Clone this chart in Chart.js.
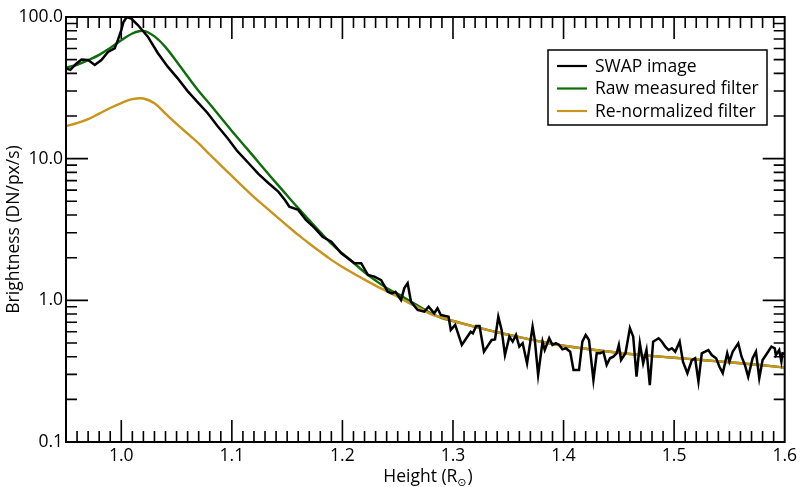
<!DOCTYPE html>
<html><head><meta charset="utf-8">
<script src="https://cdn.jsdelivr.net/npm/chart.js@4/dist/chart.umd.min.js"></script>
<style>html,body{margin:0;padding:0;background:#fff}#wrap{width:801px;height:487px;position:relative}</style>
</head><body><div id="wrap"><canvas id="c" width="801" height="487"></canvas></div>
<script>
// ---- data ----
const swapHeights = [0.950,0.954,0.959,0.964,0.970,0.976,0.982,0.988,0.994,0.997,1.000,1.002,1.005,1.009,1.015,1.024,1.033,1.042,1.051,1.060,1.069,1.078,1.087,1.096,1.105,1.115,1.124,1.133,1.142,1.148,1.152,1.160,1.167,1.175,1.182,1.190,1.199,1.205,1.211,1.217,1.223,1.229,1.235,1.241,1.245,1.248,1.253,1.256,1.259,1.262,1.268,1.274,1.278,1.283,1.286,1.289,1.293,1.296,1.298,1.302,1.308,1.316,1.318,1.321,1.324,1.328,1.331,1.335,1.338,1.341,1.344,1.347,1.351,1.354,1.357,1.360,1.363,1.367,1.372,1.374,1.377,1.381,1.383,1.387,1.390,1.393,1.396,1.399,1.402,1.406,1.409,1.414,1.417,1.420,1.423,1.427,1.430,1.433,1.436,1.439,1.442,1.445,1.448,1.450,1.452,1.456,1.460,1.463,1.466,1.469,1.472,1.475,1.478,1.481,1.486,1.489,1.492,1.495,1.498,1.501,1.505,1.508,1.512,1.516,1.519,1.522,1.525,1.528,1.531,1.534,1.538,1.541,1.544,1.548,1.550,1.553,1.558,1.561,1.564,1.567,1.571,1.574,1.577,1.580,1.585,1.588,1.591,1.592,1.595,1.597,1.598,1.600];
const swapBrightness = [43.3,42.3,46.6,50.1,49.7,45.8,49.7,56.6,60.0,68.9,80.9,92.2,100,97.6,87.8,72.6,55.7,44.6,36.9,30.0,25.1,21.0,17.0,14.0,11.3,9.32,7.80,6.73,5.85,5.11,4.58,4.35,3.69,3.23,2.81,2.59,2.15,1.98,1.83,1.83,1.51,1.47,1.39,1.15,1.12,1.15,1.005,1.22,1.32,0.978,0.855,0.832,0.902,0.810,0.879,0.788,0.775,0.766,0.618,0.670,0.484,0.600,0.585,0.659,0.659,0.434,0.471,0.525,0.530,0.766,0.618,0.411,0.554,0.511,0.569,0.471,0.498,0.359,0.652,0.525,0.297,0.511,0.446,0.540,0.484,0.498,0.484,0.451,0.459,0.434,0.322,0.322,0.511,0.569,0.525,0.274,0.423,0.423,0.434,0.350,0.390,0.400,0.423,0.484,0.379,0.423,0.636,0.554,0.289,0.498,0.359,0.446,0.252,0.511,0.540,0.510,0.471,0.446,0.459,0.434,0.511,0.369,0.306,0.379,0.390,0.267,0.423,0.434,0.446,0.411,0.390,0.340,0.306,0.423,0.369,0.434,0.498,0.400,0.350,0.289,0.390,0.434,0.282,0.379,0.434,0.471,0.459,0.411,0.446,0.369,0.423,0.420];

const filterHeights = [0.95,0.96,0.97,0.98,0.99,1.00,1.01,1.02,1.03,1.04,1.05,1.06,1.07,1.08,1.09,1.10,1.11,1.12,1.13,1.14,1.15,1.16,1.17,1.18,1.19,1.20,1.21,1.22,1.23,1.24,1.25,1.26,1.27,1.28,1.29,1.30,1.32,1.34,1.36,1.38,1.40,1.42,1.44,1.46,1.48,1.50,1.52,1.54,1.56,1.58,1.60];
const rawFilter = [44.0,46.0,49.5,54.0,60.5,68.5,76.5,79.8,73.0,61.3,48.5,38.0,30.0,24.3,19.5,15.7,12.7,10.3,8.32,6.75,5.50,4.48,3.68,3.03,2.51,2.14,1.84,1.58,1.38,1.22,1.11,1.00,0.90,0.81,0.75,0.715,0.65,0.595,0.55,0.51,0.478,0.455,0.435,0.418,0.405,0.393,0.382,0.371,0.36,0.348,0.335];
const renormFilter = [17.0,17.8,19.0,20.8,22.8,24.7,26.3,26.6,24.6,20.8,17.6,15.0,12.8,10.7,8.97,7.55,6.35,5.35,4.59,3.93,3.37,2.90,2.52,2.20,1.93,1.72,1.55,1.40,1.27,1.16,1.06,0.96,0.88,0.80,0.755,0.715,0.65,0.595,0.55,0.51,0.478,0.455,0.435,0.418,0.405,0.393,0.382,0.371,0.36,0.348,0.335];

const seriesNames = ['SWAP image','Raw measured filter','Re-normalized filter'];
const seriesColors = ['#000000','#0b6e0b','#c8941a'];
const xTickValues = [1.0,1.1,1.2,1.3,1.4,1.5,1.6];
const xTickLabels = ['1.0','1.1','1.2','1.3','1.4','1.5','1.6'];
const yTickValues = [0.1,1,10,100];
const yTickLabels = ['0.1','1.0','10.0','100.0'];
const xTitle = ['Height (R','\u2299',')'];
const yTitle = 'Brightness (DN/px/s)';

const FONT = "'Open Sans', 'DejaVu Sans', sans-serif";
const FS = 17.5;

const toPts = (xs, ys) => xs.map((h, i) => ({x: h, y: ys[i]}));

const framePlugin = {
  id: 'frameTicks',
  afterDraw(chart) {
    const {ctx, chartArea: a, scales: {x, y}} = chart;
    ctx.save();
    ctx.strokeStyle = '#000';
    ctx.lineWidth = 1.6;
    ctx.beginPath();
    for (let k = 96; k <= 159; k++) {
      const px = x.getPixelForValue(k / 100);
      const len = (k % 10 === 0) ? 22 : 11;
      ctx.moveTo(px, a.bottom); ctx.lineTo(px, a.bottom - len);
      ctx.moveTo(px, a.top); ctx.lineTo(px, a.top + len);
    }
    for (let d = -1; d <= 1; d++) {
      for (let m = 1; m <= 9; m++) {
        const v = m * Math.pow(10, d);
        const py = y.getPixelForValue(v);
        const len = (m === 1) ? 22 : 11;
        ctx.moveTo(a.left, py); ctx.lineTo(a.left + len, py);
        ctx.moveTo(a.right, py); ctx.lineTo(a.right - len, py);
      }
    }
    ctx.stroke();
    ctx.lineWidth = 2;
    ctx.strokeRect(a.left, a.top, a.right - a.left, a.bottom - a.top);

    // x title with subscript
    ctx.fillStyle = '#000';
    ctx.textBaseline = 'alphabetic';
    ctx.font = `${FS}px ${FONT}`;
    const w1 = ctx.measureText(xTitle[0]).width;
    const w3 = ctx.measureText(xTitle[2]).width;
    ctx.font = `11px ${FONT}`;
    const w2 = ctx.measureText(xTitle[1]).width;
    const total = w1 + w2 + w3 + 1;
    let sx = 428 - total / 2;
    const base = 482;
    ctx.font = `${FS}px ${FONT}`;
    ctx.fillText(xTitle[0], sx, base);
    ctx.font = `11px ${FONT}`;
    ctx.fillText(xTitle[1], sx + w1, base + 4);
    ctx.font = `${FS}px ${FONT}`;
    ctx.fillText(xTitle[2], sx + w1 + w2 + 1, base);

    // legend
    const lx = 548, ly = 50, lw = 219, lh = 75;
    ctx.fillStyle = '#fff';
    ctx.fillRect(lx, ly, lw, lh);
    ctx.lineWidth = 1.5;
    ctx.strokeStyle = '#000';
    ctx.strokeRect(lx, ly, lw, lh);
    ctx.font = `${FS}px ${FONT}`;
    ctx.textBaseline = 'middle';
    seriesNames.forEach((name, i) => {
      const ry = 66 + i * 22.5;
      ctx.strokeStyle = seriesColors[i];
      ctx.lineWidth = 2.2;
      ctx.beginPath(); ctx.moveTo(557, ry); ctx.lineTo(587, ry); ctx.stroke();
      ctx.fillStyle = '#000';
      ctx.fillText(name, 595, ry + 1);
    });
    ctx.restore();
  }
};

new Chart(document.getElementById('c'), {
  type: 'line',
  data: {
    datasets: [
      {label: seriesNames[0], data: toPts(swapHeights, swapBrightness), borderColor: seriesColors[0], borderWidth: 2.5, pointRadius: 0, tension: 0, order: 0},
      {label: seriesNames[1], data: toPts(filterHeights, rawFilter), borderColor: seriesColors[1], borderWidth: 2.4, pointRadius: 0, tension: 0.35, order: 2},
      {label: seriesNames[2], data: toPts(filterHeights, renormFilter), borderColor: seriesColors[2], borderWidth: 2.4, pointRadius: 0, tension: 0.35, order: 1}
    ]
  },
  options: {
    responsive: false,
    animation: false,
    devicePixelRatio: 1,
    layout: {padding: {top: 17, right: 13, left: 0, bottom: 0}},
    plugins: {legend: {display: false}, tooltip: {enabled: false}},
    scales: {
      x: {
        type: 'linear', min: 0.95, max: 1.6,
        afterBuildTicks: s => { s.ticks = xTickValues.map(v => ({value: v})); },
        afterFit: s => { s.height = 45; },
        ticks: {callback: (v, i) => xTickLabels[i], font: {family: FONT, size: FS}, color: '#000', padding: 4, maxRotation: 0, autoSkip: false},
        grid: {display: false, drawTicks: false},
        border: {display: false}
      },
      y: {
        type: 'logarithmic', min: 0.1, max: 100,
        afterBuildTicks: s => { s.ticks = yTickValues.map(v => ({value: v})); },
        afterFit: s => { s.width = 66; },
        ticks: {callback: (v, i) => yTickLabels[i], font: {family: FONT, size: FS}, color: '#000', padding: 3, autoSkip: false},
        grid: {display: false, drawTicks: false},
        border: {display: false},
        title: {display: true, text: yTitle, font: {family: FONT, size: FS}, color: '#000', padding: {top: 4, bottom: 0}}
      }
    }
  },
  plugins: [framePlugin]
});
</script></body></html>
